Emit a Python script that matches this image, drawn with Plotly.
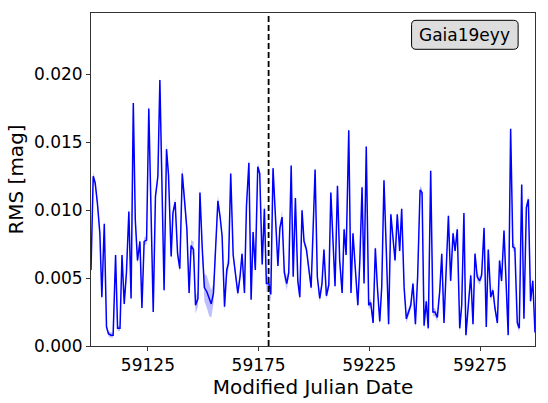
import plotly.graph_objects as go

# light curve RMS values
mjd = [
    59099.3, 59100.3, 59101.2, 59102.2, 59103.3, 59104.2, 59105.3, 59106.3, 59107.2, 59108.3,
    59109.3, 59110.4, 59111.3, 59112.4, 59113.3, 59114.3, 59115.3, 59116.4, 59117.4, 59118.4,
    59119.3, 59120.3, 59121.4, 59122.3, 59123.3, 59124.4, 59125.4, 59126.5, 59127.4, 59128.4,
    59129.5, 59130.4, 59132.3, 59133.4, 59134.3, 59135.5, 59136.3, 59137.3, 59138.4, 59139.4,
    59140.5, 59141.5, 59142.6, 59143.6, 59144.5, 59145.6, 59146.5, 59147.6, 59148.5, 59149.5,
    59150.5, 59151.6, 59152.7, 59153.6, 59154.6, 59155.5, 59156.6, 59157.6, 59158.5, 59159.6,
    59160.6, 59161.4, 59162.4, 59163.5, 59164.5, 59165.6, 59166.6, 59167.5, 59168.6, 59169.5,
    59170.6, 59171.6, 59172.5, 59173.5, 59174.6, 59175.5, 59176.6, 59177.6, 59178.5, 59179.6,
    59180.5, 59181.5, 59182.6, 59183.7, 59184.6, 59185.6, 59186.6, 59187.7, 59188.6, 59189.7,
    59190.6, 59191.6, 59192.7, 59193.6, 59194.6, 59195.5, 59196.6, 59197.6, 59198.7, 59199.6,
    59200.5, 59201.5, 59202.6, 59203.6, 59204.5, 59205.6, 59206.7, 59207.6, 59208.6, 59209.5,
    59210.6, 59211.6, 59212.7, 59213.6, 59214.5, 59215.7, 59216.7, 59217.6, 59218.7, 59219.8,
    59220.7, 59221.7, 59222.6, 59223.6, 59224.7, 59225.6, 59226.7, 59227.7, 59228.6, 59229.7,
    59230.6, 59231.6, 59232.7, 59233.7, 59234.7, 59235.7, 59236.6, 59237.6, 59238.7, 59239.6,
    59240.7, 59241.7, 59242.6, 59243.7, 59244.7, 59245.8, 59246.8, 59247.9, 59248.8, 59249.7,
    59250.7, 59251.6, 59252.7, 59253.7, 59254.6, 59255.7, 59256.8, 59257.7, 59258.7, 59259.8,
    59260.7, 59261.7, 59262.8, 59263.7, 59264.7, 59265.8, 59266.7, 59267.7, 59268.6, 59269.7,
    59270.8, 59271.8, 59272.7, 59273.7, 59274.8, 59275.7, 59276.8, 59277.8, 59278.7, 59279.8,
    59280.8, 59281.7, 59282.8, 59283.8, 59284.7, 59285.8, 59286.8, 59287.7, 59288.8, 59289.8,
    59290.7, 59291.8, 59292.7, 59293.8, 59294.8, 59295.9, 59296.8, 59297.8, 59298.8, 59299.8,
]

rms = [
    0.0056, 0.0125, 0.0120, 0.0105, 0.0083, 0.0036, 0.0090, 0.0014, 0.0009, 0.0008,
    0.0008, 0.0067, 0.0013, 0.0013, 0.0067, 0.0031, 0.0054, 0.0099, 0.0035, 0.0179,
    0.0093, 0.0063, 0.0077, 0.0028, 0.0077, 0.0078, 0.0175, 0.0100, 0.0025, 0.0110,
    0.0125, 0.0196, 0.0041, 0.0145, 0.0126, 0.0066, 0.0098, 0.0106, 0.0068, 0.0057,
    0.0127, 0.0108, 0.0086, 0.0039, 0.0074, 0.0071, 0.0030, 0.0035, 0.0113, 0.0073,
    0.0043, 0.0040, 0.0034, 0.0031, 0.0039, 0.0070, 0.0107, 0.0095, 0.0081, 0.0029,
    0.0056, 0.0061, 0.0127, 0.0067, 0.0054, 0.0039, 0.0051, 0.0068, 0.0039, 0.0103,
    0.0135, 0.0034, 0.0084, 0.0056, 0.0132, 0.0127, 0.0060, 0.0101, 0.0046, 0.0046,
    0.0038, 0.0131, 0.0095, 0.0059, 0.0087, 0.0095, 0.0054, 0.0046, 0.0054, 0.0133,
    0.0051, 0.0109, 0.0048, 0.0036, 0.0100, 0.0077, 0.0071, 0.0056, 0.0043, 0.0086,
    0.0130, 0.0051, 0.0035, 0.0046, 0.0071, 0.0037, 0.0045, 0.0113, 0.0082, 0.0044,
    0.0118, 0.0063, 0.0039, 0.0086, 0.0067, 0.0159, 0.0039, 0.0083, 0.0056, 0.0030,
    0.0063, 0.0117, 0.0046, 0.0147, 0.0030, 0.0032, 0.0017, 0.0072, 0.0044, 0.0018,
    0.0044, 0.0122, 0.0068, 0.0016, 0.0097, 0.0079, 0.0063, 0.0097, 0.0070, 0.0101,
    0.0043, 0.0020, 0.0025, 0.0030, 0.0046, 0.0016, 0.0051, 0.0115, 0.0113, 0.0015,
    0.0033, 0.0013, 0.0129, 0.0025, 0.0025, 0.0021, 0.0041, 0.0068, 0.0017, 0.0063,
    0.0096, 0.0048, 0.0083, 0.0070, 0.0086, 0.0013, 0.0030, 0.0098, 0.0008, 0.0030,
    0.0052, 0.0016, 0.0068, 0.0051, 0.0048, 0.0052, 0.0087, 0.0014, 0.0071, 0.0036,
    0.0041, 0.0028, 0.0017, 0.0063, 0.0048, 0.0085, 0.0039, 0.0008, 0.0160, 0.0073,
    0.0072, 0.0017, 0.0013, 0.0119, 0.0020, 0.0102, 0.0108, 0.0033, 0.0048, 0.0010,
]

rms_err = [
    0.0003, 0.0003, 0.0003, 0.0003, 0.0003, 0.0003, 0.0003, 0.0002, 0.0002, 0.0002,
    0.0002, 0.0003, 0.0002, 0.0002, 0.0003, 0.0003, 0.0003, 0.0003, 0.0003, 0.0003,
    0.0003, 0.0003, 0.0003, 0.0003, 0.0003, 0.0003, 0.0003, 0.0003, 0.0003, 0.0003,
    0.0003, 0.0003, 0.0003, 0.0004, 0.0003, 0.0003, 0.0003, 0.0003, 0.0003, 0.0003,
    0.0005, 0.0005, 0.0005, 0.0005, 0.0004, 0.0006, 0.0006, 0.0006, 0.0004, 0.0004,
    0.0010, 0.0012, 0.0012, 0.0010, 0.0008, 0.0004, 0.0004, 0.0003, 0.0003, 0.0004,
    0.0005, 0.0005, 0.0003, 0.0003, 0.0003, 0.0003, 0.0003, 0.0003, 0.0003, 0.0003,
    0.0003, 0.0003, 0.0003, 0.0003, 0.0003, 0.0003, 0.0003, 0.0006, 0.0006, 0.0006,
    0.0006, 0.0003, 0.0003, 0.0003, 0.0003, 0.0005, 0.0005, 0.0005, 0.0003, 0.0003,
    0.0003, 0.0003, 0.0003, 0.0003, 0.0003, 0.0003, 0.0003, 0.0003, 0.0003, 0.0003,
    0.0003, 0.0003, 0.0003, 0.0003, 0.0003, 0.0003, 0.0003, 0.0003, 0.0003, 0.0003,
    0.0003, 0.0003, 0.0003, 0.0003, 0.0003, 0.0003, 0.0003, 0.0003, 0.0003, 0.0003,
    0.0003, 0.0003, 0.0003, 0.0003, 0.0003, 0.0003, 0.0003, 0.0003, 0.0003, 0.0003,
    0.0003, 0.0003, 0.0003, 0.0003, 0.0003, 0.0003, 0.0003, 0.0003, 0.0003, 0.0003,
    0.0003, 0.0003, 0.0003, 0.0003, 0.0003, 0.0003, 0.0003, 0.0003, 0.0003, 0.0003,
    0.0003, 0.0003, 0.0003, 0.0003, 0.0003, 0.0003, 0.0003, 0.0003, 0.0003, 0.0003,
    0.0003, 0.0003, 0.0003, 0.0003, 0.0003, 0.0003, 0.0003, 0.0003, 0.0003, 0.0003,
    0.0003, 0.0003, 0.0003, 0.0003, 0.0003, 0.0003, 0.0003, 0.0003, 0.0003, 0.0003,
    0.0003, 0.0003, 0.0003, 0.0003, 0.0003, 0.0003, 0.0003, 0.0003, 0.0003, 0.0003,
    0.0003, 0.0003, 0.0003, 0.0003, 0.0003, 0.0003, 0.0003, 0.0003, 0.0003, 0.0003,
]

event_mjd = 59179.5
object_name = "Gaia19eyy"
x_ticks = [59125, 59175, 59225, 59275]
y_ticks = [0.000, 0.005, 0.010, 0.015, 0.020]

lower = [v - e for v, e in zip(rms, rms_err)]
upper = [v + e for v, e in zip(rms, rms_err)]

fig = go.Figure()

# error band
fig.add_trace(go.Scatter(x=mjd, y=lower, mode='lines', line=dict(width=0),
                         showlegend=False, hoverinfo='skip'))
fig.add_trace(go.Scatter(x=mjd, y=upper, mode='lines', line=dict(width=0),
                         fill='tonexty', fillcolor='rgba(0,0,255,0.25)',
                         showlegend=False, hoverinfo='skip'))

# rms curve
fig.add_trace(go.Scatter(x=mjd, y=rms, mode='lines',
                         line=dict(color='blue', width=1.5), showlegend=False))

# event marker
fig.add_vline(x=event_mjd, line=dict(color='black', width=1.8, dash='6px,3px'))

# rounded label box (paper coords)
bx0, bx1, by0, by1 = 0.722, 0.962, 0.891, 0.978
rx, ry = 0.010, 0.013
box_path = (f"M {bx0+rx},{by0} L {bx1-rx},{by0} Q {bx1},{by0} {bx1},{by0+ry} "
            f"L {bx1},{by1-ry} Q {bx1},{by1} {bx1-rx},{by1} "
            f"L {bx0+rx},{by1} Q {bx0},{by1} {bx0},{by1-ry} "
            f"L {bx0},{by0+ry} Q {bx0},{by0} {bx0+rx},{by0} Z")
fig.add_shape(type='path', path=box_path, xref='paper', yref='paper',
              fillcolor='#dddddd', line=dict(color='black', width=1), layer='above')

fig.add_annotation(
    text=object_name,
    xref='paper', yref='paper',
    x=(bx0 + bx1) / 2, y=(by0 + by1) / 2,
    xanchor='center', yanchor='middle',
    showarrow=False,
    font=dict(size=17, color='black'),
)

fig.update_layout(
    width=548, height=403,
    margin=dict(l=91, r=13, t=13, b=57),
    paper_bgcolor='white',
    plot_bgcolor='white',
    font=dict(family='DejaVu Sans', size=17, color='black'),
    showlegend=False,
)

fig.update_xaxes(
    range=[59099.3, 59299.8],
    tickvals=x_ticks, tickformat='d',
    ticks='outside', ticklen=4, tickwidth=1, tickcolor='#333',
    showline=True, linecolor='#333', linewidth=1, mirror=True,
    showgrid=False, zeroline=False, automargin=False,
    title=dict(text='Modified Julian Date', standoff=0),
)

fig.update_yaxes(
    range=[0, 0.02453],
    tickvals=y_ticks, tickformat='.3f',
    ticks='outside', ticklen=4, tickwidth=1, tickcolor='#333',
    showline=True, linecolor='#333', linewidth=1, mirror=True,
    showgrid=False, zeroline=False, automargin=False,
    title=dict(text='RMS [mag]', standoff=4),
)

# drop the default page margin so the figure sits at the window's corner
fig.write_html("out.html", config={'displayModeBar': False},
               post_script="document.body.style.margin='0';")
